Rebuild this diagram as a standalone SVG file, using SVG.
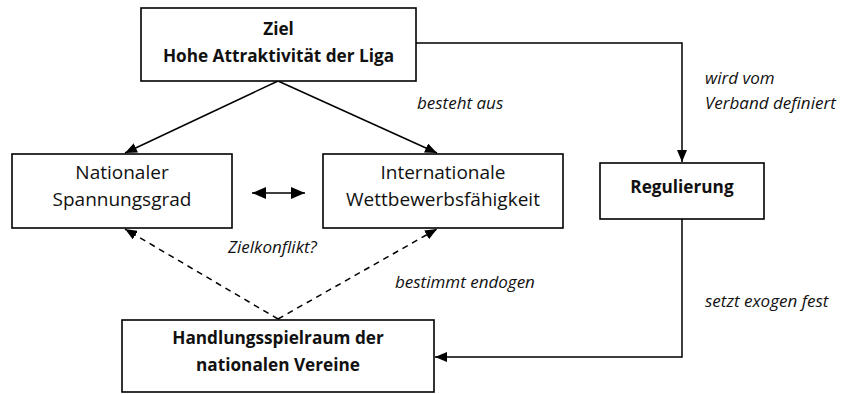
<svg xmlns="http://www.w3.org/2000/svg" width="852" height="394" viewBox="0 0 852 394">
<style>
.box{fill:#fff;stroke:#000;stroke-width:1.6}
.t{font-family:"Open Sans","Noto Sans","DejaVu Sans",sans-serif;font-size:19px;fill:#111;text-anchor:middle}
.b{font-weight:bold;font-size:17.2px}
.i{font-family:"Open Sans","Noto Sans","DejaVu Sans",sans-serif;font-size:17px;font-style:italic;fill:#111}
.e{fill:none;stroke:#000;stroke-width:1.5}
.d{stroke-dasharray:6,5}
</style>
<defs>
<marker id="ah" viewBox="0 0 12 10" refX="12" refY="5" markerWidth="12" markerHeight="10" markerUnits="userSpaceOnUse" orient="auto-start-reverse">
<path d="M0,0 L12,5 L0,10 z" fill="#000"/>
</marker>
<marker id="ah2" viewBox="0 0 14 12" refX="14" refY="6" markerWidth="14" markerHeight="12" markerUnits="userSpaceOnUse" orient="auto-start-reverse">
<path d="M0,0 L14,6 L0,12 z" fill="#000"/>
</marker>
</defs>
<g id="connectors">
<line class="e" x1="278" y1="81" x2="125" y2="153" marker-end="url(#ah)"/>
<line class="e" x1="278" y1="81" x2="437" y2="153" marker-end="url(#ah)"/>
<polyline class="e" points="416,43 682,43 682,162" marker-end="url(#ah)"/>
<polyline class="e" points="682,219 682,357 435,357" marker-end="url(#ah)"/>
<line class="e" x1="252" y1="193" x2="305" y2="193" stroke-width="3" marker-start="url(#ah2)" marker-end="url(#ah2)"/>
<line class="e d" x1="278" y1="319" x2="125" y2="229" marker-end="url(#ah)"/>
<line class="e d" x1="278" y1="319" x2="437" y2="229" marker-end="url(#ah)"/>
<text class="i" x="417" y="109">besteht aus</text>
<text class="i" x="705" y="84">wird vom</text>
<text class="i" x="705" y="109">Verband definiert</text>
<text class="i" x="228" y="253">Zielkonflikt?</text>
<text class="i" x="395" y="288">bestimmt endogen</text>
<text class="i" x="705" y="307">setzt exogen fest</text>
</g>
<g id="ziel">
<rect class="box" x="141" y="8" width="275" height="73"/>
<text class="t b" x="278.5" y="35">Ziel</text>
<text class="t b" x="278.5" y="62">Hohe Attraktivität der Liga</text>
</g>
<g id="national">
<rect class="box" x="12" y="154" width="220" height="74"/>
<text class="t" x="122" y="179">Nationaler</text>
<text class="t" x="122" y="206">Spannungsgrad</text>
</g>
<g id="international">
<rect class="box" x="323" y="154" width="240" height="74"/>
<text class="t" x="443" y="179">Internationale</text>
<text class="t" x="443" y="206">Wettbewerbsfähigkeit</text>
</g>
<g id="regulierung">
<rect class="box" x="600" y="163" width="164" height="56"/>
<text class="t b" x="682" y="193">Regulierung</text>
</g>
<g id="handlung">
<rect class="box" x="122" y="320" width="312" height="72"/>
<text class="t b" x="278" y="344">Handlungsspielraum der</text>
<text class="t b" x="278" y="371">nationalen Vereine</text>
</g>
</svg>
